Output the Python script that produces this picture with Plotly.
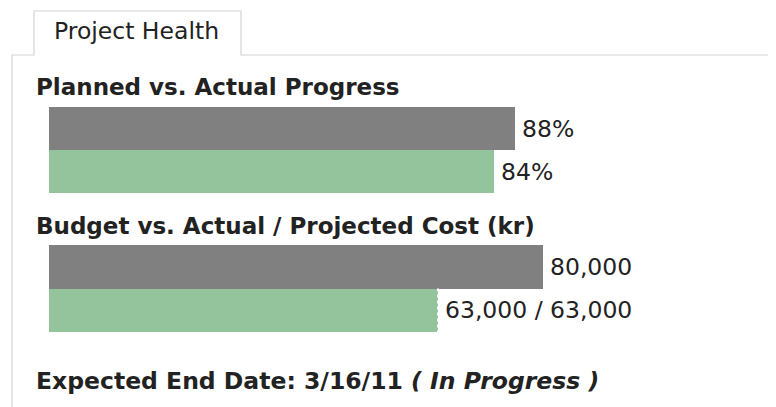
import plotly.graph_objects as go

# The page body has an 8px margin; lay out in screen pixels and compensate.
OFF = 8
W, H = 776 - OFF, 407 - OFF

# ---- data ----
tab_title = "Project Health"
progress_title = "Planned vs. Actual Progress"
progress_labels = ["Planned", "Actual"]
progress_values = [88, 84]
cost_title = "Budget vs. Actual / Projected Cost (kr)"
cost_labels = ["Budget", "Actual"]
cost_values = [80000, 63000]
projected_cost = 63000
end_date = "3/16/11"
status = "In Progress"

GRAY = "#808080"
GREEN = "#93c49b"
TXT = "#222222"
LINE = "#d4d4d4"
FONT = "DejaVu Sans, Liberation Sans, Arial, sans-serif"


def px(x):
    return (x - OFF) / W


def py(y):
    return 1 - (y - OFF) / H


fig = go.Figure()
fig.add_trace(go.Bar(
    x=progress_values, y=progress_labels, orientation="h",
    marker=dict(color=[GRAY, GREEN], line=dict(width=0)),
    xaxis="x", yaxis="y", hoverinfo="skip"))
fig.add_trace(go.Bar(
    x=cost_values, y=cost_labels, orientation="h",
    marker=dict(color=[GRAY, GREEN], line=dict(width=0)),
    xaxis="x2", yaxis="y2", hoverinfo="skip"))

bar_left, bar_right = 49, 579
fig.update_layout(
    width=W, height=H,
    margin=dict(l=0, r=0, t=0, b=0),
    paper_bgcolor="white", plot_bgcolor="rgba(0,0,0,0)",
    showlegend=False, bargap=0,
    font=dict(family=FONT, color=TXT),
    xaxis=dict(domain=[px(bar_left), px(bar_right)], range=[0, 100], visible=False, anchor="y"),
    yaxis=dict(domain=[py(193), py(107)], range=[1.5, -0.5], visible=False, anchor="x"),
    xaxis2=dict(domain=[px(bar_left), px(bar_right)], range=[0, 80000 * 530 / 494], visible=False, anchor="y2"),
    yaxis2=dict(domain=[py(332), py(245)], range=[1.5, -0.5], visible=False, anchor="x2"),
)

# tab + panel outline
path = (f"M {px(12)},{py(415)} L {px(12)},{py(55)} L {px(34)},{py(55)} "
        f"L {px(34)},{py(11)} L {px(241)},{py(11)} L {px(241)},{py(55)} L {px(790)},{py(55)}")
fig.add_shape(type="path", xref="paper", yref="paper", path=path,
              line=dict(color=LINE, width=1.2))

# projected marker (dotted edge)
fig.add_shape(type="line", xref="x2", yref="y2", x0=projected_cost, x1=projected_cost,
              y0=0.5, y1=1.5, line=dict(color="white", width=2, dash="dot"))

ann = []
ann.append(dict(text=tab_title, x=px(52), y=py(31), xref="paper", yref="paper",
                xanchor="left", yanchor="middle", showarrow=False,
                font=dict(size=23.5, color=TXT)))
ann.append(dict(text=f"<b>{progress_title}</b>", x=px(34), y=py(87), xref="paper", yref="paper",
                xanchor="left", yanchor="middle", showarrow=False,
                font=dict(size=23, color=TXT)))
ann.append(dict(text=f"<b>{cost_title}</b>", x=px(34), y=py(226), xref="paper", yref="paper",
                xanchor="left", yanchor="middle", showarrow=False,
                font=dict(size=23, color=TXT)))
ann.append(dict(text=f"<b>Expected End Date: {end_date} <i>( {status} )</i></b>",
                x=px(34), y=py(381), xref="paper", yref="paper",
                xanchor="left", yanchor="middle", showarrow=False,
                font=dict(size=23.5, color=TXT)))

for lab, v in zip(progress_labels, progress_values):
    ann.append(dict(text=f"{v}%", x=v, y=lab, xref="x", yref="y",
                    xanchor="left", yanchor="middle", xshift=5, showarrow=False,
                    font=dict(size=23.5, color=TXT)))
cost_texts = [f"{cost_values[0]:,}", f"{cost_values[1]:,} / {projected_cost:,}"]
for lab, v, t in zip(cost_labels, cost_values, cost_texts):
    ann.append(dict(text=t, x=v, y=lab, xref="x2", yref="y2",
                    xanchor="left", yanchor="middle", xshift=5, showarrow=False,
                    font=dict(size=23.5, color=TXT)))
fig.update_layout(annotations=ann)

fig.write_html("out.html")
